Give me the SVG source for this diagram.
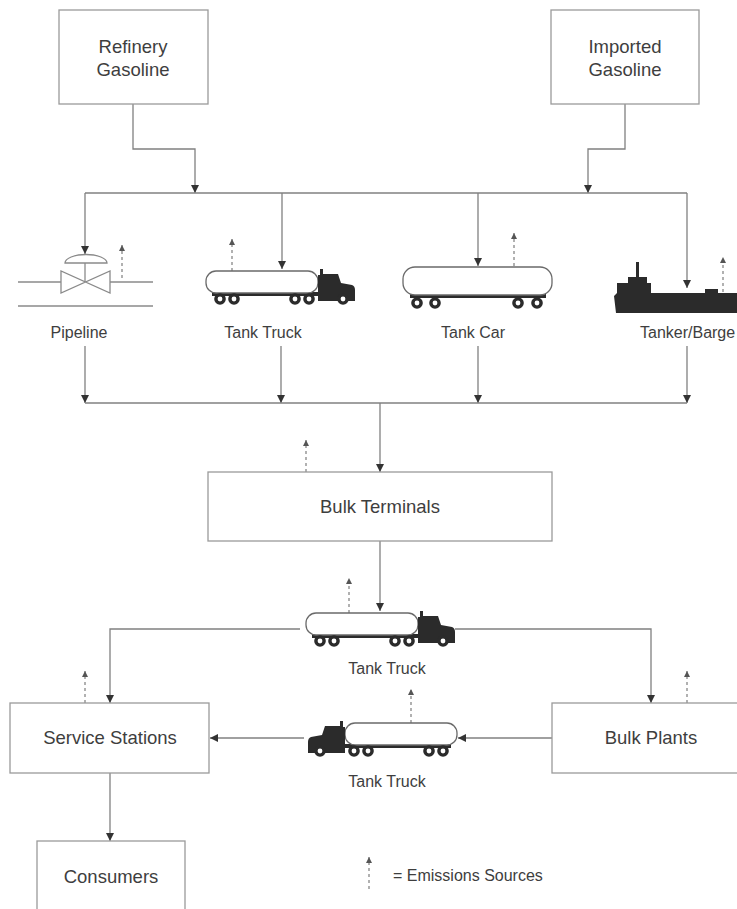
<svg xmlns="http://www.w3.org/2000/svg" width="737" height="909" viewBox="0 0 737 909">
  <defs>
    <style>
      .box { fill: #ffffff; stroke: #9a9a9a; stroke-width: 1.3; }
      .lbl { font-family: "Liberation Sans", Arial, sans-serif; font-size: 18.5px; fill: #3e3e3e; text-anchor: middle; }
      .cap { font-family: "Liberation Sans", Arial, sans-serif; font-size: 16px; fill: #3e3e3e; text-anchor: middle; }
      .flow { fill: none; stroke: #808080; stroke-width: 1.3; }
      .flow-a { fill: none; stroke: #808080; stroke-width: 1.3; marker-end: url(#arr); }
      .emis { fill: none; stroke: #888; stroke-width: 1.3; stroke-dasharray: 3 3; marker-end: url(#emarr); }
      .dark { fill: #2b2b2b; }
      .tank { fill: #ffffff; stroke: #6a6a6a; stroke-width: 1.3; }
      .pipe { fill: none; stroke: #8a8a8a; stroke-width: 1.3; }
    </style>
    <marker id="arr" markerUnits="userSpaceOnUse" markerWidth="8" markerHeight="8" refX="8" refY="4" orient="auto">
      <path d="M0,0 L8,4 L0,8 Z" fill="#333"/>
    </marker>
    <marker id="emarr" markerUnits="userSpaceOnUse" markerWidth="6" markerHeight="6" refX="6" refY="3" orient="auto">
      <path d="M0,0 L6,3 L0,6 Z" fill="#555"/>
    </marker>
    <!-- tractor-trailer tank truck, facing right; origin at top-left of tank -->
    <g id="truck">
      <rect class="dark" x="6" y="21" width="134" height="4"/>
      <rect class="tank" x="0" y="0" width="112" height="22" rx="10" ry="10"/>
      <path class="dark" d="M112,28 L112,4 L114,4 L114,-2 L117,-2 L117,3 L132,3 L135,12 L146,14 Q149,15 149,19 L149,30 L112,30 Z"/>
      <g class="dark">
        <circle cx="14" cy="28" r="5.8"/>
        <circle cx="28" cy="28" r="5.8"/>
        <circle cx="89" cy="28" r="5.8"/>
        <circle cx="103" cy="28" r="5.8"/>
        <circle cx="137" cy="28" r="5.8"/>
      </g>
      <g fill="#fff">
        <circle cx="14" cy="28" r="2.4"/>
        <circle cx="28" cy="28" r="2.4"/>
        <circle cx="89" cy="28" r="2.4"/>
        <circle cx="103" cy="28" r="2.4"/>
        <circle cx="137" cy="28" r="2.4"/>
      </g>
    </g>
  </defs>

  <rect width="737" height="909" fill="#ffffff"/>

  <!-- connectors -->
  <g id="connectors">
    <polyline class="flow-a" points="133,104 133,149 195,149 195,193"/>
    <polyline class="flow-a" points="625,104 625,149 588,149 588,193"/>
    <line class="flow" x1="85" y1="193" x2="687" y2="193"/>
    <line class="flow-a" x1="85" y1="193" x2="85" y2="254"/>
    <line class="flow-a" x1="282" y1="193" x2="282" y2="269"/>
    <line class="flow-a" x1="478" y1="193" x2="478" y2="266"/>
    <line class="flow-a" x1="687" y1="193" x2="687" y2="288"/>

    <line class="flow-a" x1="85" y1="346" x2="85" y2="403"/>
    <line class="flow-a" x1="281" y1="346" x2="281" y2="403"/>
    <line class="flow-a" x1="478" y1="346" x2="478" y2="403"/>
    <line class="flow-a" x1="687" y1="346" x2="687" y2="403"/>
    <line class="flow" x1="85" y1="403" x2="687" y2="403"/>
    <line class="flow-a" x1="380" y1="403" x2="380" y2="472"/>

    <line class="flow-a" x1="380" y1="541" x2="380" y2="611"/>
    <polyline class="flow-a" points="300,629 110,629 110,703"/>
    <polyline class="flow-a" points="455,629 651,629 651,703"/>

    <line class="flow-a" x1="552" y1="738" x2="458" y2="738"/>
    <line class="flow-a" x1="304" y1="738" x2="210" y2="738"/>

    <line class="flow-a" x1="110" y1="773" x2="110" y2="841"/>
  </g>

  <!-- emission source markers -->
  <g id="emissions">
    <line class="emis" x1="122" y1="278" x2="122" y2="245"/>
    <line class="emis" x1="232" y1="271" x2="232" y2="239"/>
    <line class="emis" x1="514" y1="266" x2="514" y2="233"/>
    <line class="emis" x1="723" y1="292" x2="723" y2="257"/>
    <line class="emis" x1="306" y1="472" x2="306" y2="440"/>
    <line class="emis" x1="349" y1="613" x2="349" y2="578"/>
    <line class="emis" x1="85" y1="703" x2="85" y2="671"/>
    <line class="emis" x1="687" y1="703" x2="687" y2="671"/>
    <line class="emis" x1="411" y1="723" x2="411" y2="689"/>
  </g>

  <g id="refinery-gasoline">
    <rect class="box" x="59" y="10" width="149" height="94"/>
    <text class="lbl" x="133" y="53">Refinery</text>
    <text class="lbl" x="133" y="76">Gasoline</text>
  </g>

  <g id="imported-gasoline">
    <rect class="box" x="551" y="10" width="148" height="94"/>
    <text class="lbl" x="625" y="53">Imported</text>
    <text class="lbl" x="625" y="76">Gasoline</text>
  </g>

  <g id="pipeline">
    <line class="pipe" x1="18" y1="282" x2="61" y2="282"/>
    <line class="pipe" x1="110" y1="282" x2="153" y2="282"/>
    <line class="pipe" x1="18" y1="306" x2="153" y2="306"/>
    <path class="pipe" d="M61,271 L61,293 L110,271 L110,293 Z"/>
    <line class="pipe" x1="85" y1="263" x2="85" y2="282"/>
    <path class="pipe" d="M65,263 A21,8.5 0 0 1 107,263 Z"/>
    <text class="cap" x="79" y="338">Pipeline</text>
  </g>

  <g id="tank-truck-1">
    <use href="#truck" x="206" y="271"/>
    <text class="cap" x="263" y="338">Tank Truck</text>
  </g>

  <g id="tank-car">
    <rect class="dark" x="410" y="294" width="136" height="4"/>
    <rect class="tank" x="403" y="267" width="149" height="28" rx="12" ry="12"/>
    <g class="dark">
      <circle cx="417" cy="303" r="5.8"/>
      <circle cx="435" cy="303" r="5.8"/>
      <circle cx="518" cy="303" r="5.8"/>
      <circle cx="537" cy="303" r="5.8"/>
    </g>
    <g fill="#fff">
      <circle cx="417" cy="303" r="2.4"/>
      <circle cx="435" cy="303" r="2.4"/>
      <circle cx="518" cy="303" r="2.4"/>
      <circle cx="537" cy="303" r="2.4"/>
    </g>
    <text class="cap" x="473" y="338">Tank Car</text>
  </g>

  <g id="tanker-barge">
    <path class="dark" d="M616,313 L614,296 L617,293 L617,283 L628,283 L628,277 L636,277 L636,262 L639,262 L639,277 L647,277 L647,283 L651,283 L651,293 L705,293 L705,289 L718,289 L718,293 L740,293 L740,313 Z"/>
    <text class="cap" x="640" y="338" style="text-anchor:start">Tanker/Barge</text>
  </g>

  <g id="bulk-terminals">
    <rect class="box" x="208" y="472" width="344" height="69"/>
    <text class="lbl" x="380" y="513">Bulk Terminals</text>
  </g>

  <g id="tank-truck-2">
    <use href="#truck" x="306" y="613"/>
    <text class="cap" x="387" y="674">Tank Truck</text>
  </g>

  <g id="service-stations">
    <rect class="box" x="10" y="703" width="199" height="70"/>
    <text class="lbl" x="110" y="744">Service Stations</text>
  </g>

  <g id="bulk-plants">
    <rect class="box" x="552" y="703" width="190" height="70"/>
    <text class="lbl" x="651" y="744">Bulk Plants</text>
  </g>

  <g id="tank-truck-3">
    <use href="#truck" transform="translate(457,723) scale(-1,1)"/>
    <text class="cap" x="387" y="787">Tank Truck</text>
  </g>

  <g id="consumers">
    <rect class="box" x="37" y="841" width="148" height="75"/>
    <text class="lbl" x="111" y="883">Consumers</text>
  </g>

  <g id="legend">
    <line class="emis" x1="369" y1="889" x2="369" y2="857"/>
    <text class="cap" x="393" y="881" style="text-anchor:start">= Emissions Sources</text>
  </g>
</svg>
